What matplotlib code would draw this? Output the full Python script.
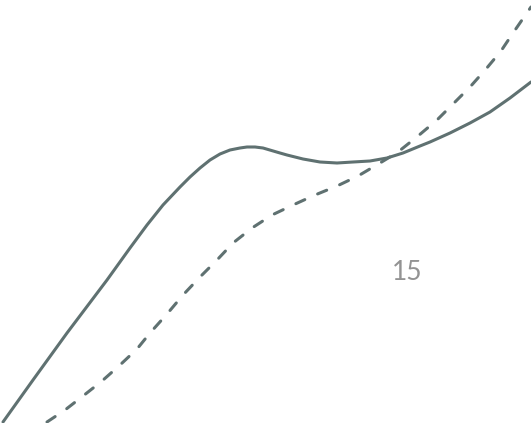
import matplotlib
matplotlib.use("Agg")
import matplotlib.pyplot as plt

solid_x = [3, 33, 67, 107, 130, 147, 163, 180, 190, 200, 210, 220, 230, 240, 247, 255, 263, 280,
           287, 303, 320, 337, 353, 370, 387, 403, 420, 430, 450, 470, 490, 510, 531]
solid_y = [422, 380, 333, 280, 248, 225, 205, 187, 177, 168, 160, 154, 150, 148, 147, 147, 148, 153,
           155, 159, 162, 163, 162, 161, 158, 153, 146, 142, 133, 123, 112, 98, 82]

dash_x = [47, 65, 83, 102, 120, 137, 150, 167, 183, 200, 217, 233, 252, 272,
          293, 315, 337, 358, 380, 398, 418, 437, 453, 470, 486, 501, 513, 531]
dash_y = [422, 410, 396, 381, 365, 349, 333, 314, 295, 277, 260, 243, 228, 215,
          205, 195, 186, 176, 163, 152, 136, 120, 104, 87, 69, 51, 33, 7]

label_text = "15"

line_color = "#5f7171"

fig = plt.figure(figsize=(5.31, 4.23), dpi=100)
ax = fig.add_axes([0, 0, 1, 1])
ax.set_xlim(0, 531)
ax.set_ylim(423, 0)
ax.axis("off")

ax.plot(solid_x, solid_y, color=line_color, lw=2.2, solid_capstyle="round",
        solid_joinstyle="round")
ax.plot(dash_x, dash_y, color=line_color, lw=2.2, dashes=(3.2, 4.6),
        dash_capstyle="round", dash_joinstyle="round")

ax.text(407, 273, label_text, ha="center", va="center", fontsize=19,
        color="#939393", family="Lato", fontweight="normal")

fig.savefig("out.png", dpi=100)
